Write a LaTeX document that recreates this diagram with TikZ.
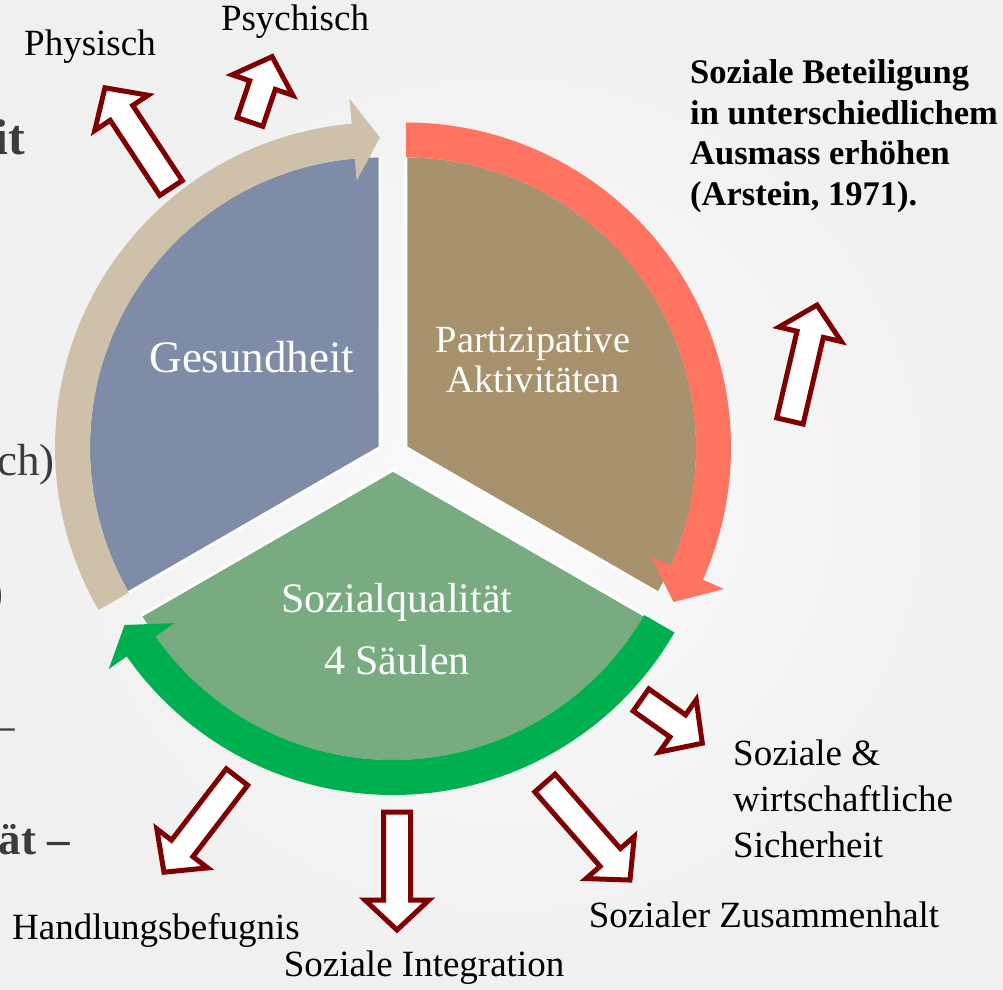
\documentclass[tikz,border=0pt]{standalone}
\usepackage{fontspec}
\setmainfont{Liberation Serif}
\usetikzlibrary{positioning}

\definecolor{gesundblue}{HTML}{7F8CA8}
\definecolor{partizbrown}{HTML}{A8926D}
\definecolor{sozgreen}{HTML}{78AB80}
\definecolor{ringbeige}{HTML}{CFC0A9}
\definecolor{ringred}{HTML}{FF7361}
\definecolor{ringgreen}{HTML}{00AF50}
\definecolor{arrowred}{HTML}{7F0000}
\definecolor{fragtext}{HTML}{3C3C3C}

% block arrow: tail point, direction, length
\newcommand{\fatarrow}[3]{%
  \begin{scope}[shift={#1}, rotate=#2]
    \draw[arrowbox] (0,-13.5) -- (#3-30,-13.5) -- (#3-30,-32) -- (#3,0)
      -- (#3-30,32) -- (#3-30,13.5) -- (0,13.5) -- cycle;
  \end{scope}}

\begin{document}
\begin{tikzpicture}[x=1pt, y=1pt,
  edge/.style={draw=white, line width=3pt, line cap=round},
  arrowbox/.style={draw=arrowred, fill=white, line width=5pt, line join=miter},
  lbl/.style={inner sep=0pt, font=\fontsize{37}{46}\selectfont},
  inlbl/.style={inner sep=0pt, text=white, align=center},
  frag/.style={inner sep=0pt, anchor=east, text=fragtext}]

\useasboundingbox (0,0) rectangle (1003,989);
\shade[inner color=gray!3, outer color=gray!12] (0,0) rectangle (1003,989);

% centres of the three pieces
\coordinate (C) at (393,534);
\path (C) ++(150:15) coordinate (Gc);
\path (C) ++(30:15) coordinate (Pc);
\path (C) ++(270:15) coordinate (Sc);

% pie pieces
\fill[gesundblue] (Gc) -- ++(90:290) arc[start angle=90, end angle=210, radius=290] -- cycle;
\fill[partizbrown] (Pc) -- ++(-30:290) arc[start angle=-30, end angle=90, radius=290] -- cycle;
\fill[sozgreen] (Sc) -- ++(210:290) arc[start angle=210, end angle=330, radius=290] -- cycle;
\draw[edge] (Gc) ++(90:290) -- (Gc) -- ++(210:290);
\draw[edge] (Pc) ++(90:290) -- (Pc) -- ++(-30:290);
\draw[edge] (Sc) ++(210:290) -- (Sc) -- ++(330:290);

% ring arrows
\begin{scope}[shift={(Gc)}]
\fill[ringbeige] (210:325) arc[start angle=210, end angle=95, radius=325] -- (95:350)
  -- (90:310) -- (95:268) -- (95:290) arc[start angle=95, end angle=210, radius=290] -- cycle;
\end{scope}
\begin{scope}[shift={(Pc)}]
\fill[ringred] (90:325) arc[start angle=90, end angle=-24, radius=325] -- (-24:348)
  -- (-30:309) -- (-24:268) -- (-24:290) arc[start angle=-24, end angle=90, radius=290] -- cycle;
\end{scope}
\begin{scope}[shift={(Sc)}]
\fill[ringgreen] (-30:325) arc[start angle=-30, end angle=-145, radius=325] -- (-145:347)
  -- (-150:310) -- (-145:267) -- (-145:290) arc[start angle=-145, end angle=-30, radius=290] -- cycle;
\end{scope}

% labels inside the pie
\node[inlbl, font=\fontsize{45}{50}\selectfont] (gesund) at (252,632) {Gesundheit};
\node[inlbl, font=\fontsize{38.4}{40}\selectfont] (partiz) at (533,629) {Partizipative\\Aktivitäten};
\node[inlbl, font=\fontsize{42}{62}\selectfont] (sozq) at (397,360) {Sozialqualität\\4 Säulen};

% outer labels
\node[lbl] (phys) at (90,942) {Physisch};
\node[lbl] (psych) at (295,967) {Psychisch};
\node[inner sep=0pt, anchor=west, align=left,
      font=\fontsize{34.5}{40.5}\selectfont\bfseries] (beteil) at (690,853)
      {Soziale Beteiligung\\in unterschiedlichem\\Ausmass erhöhen\\(Arstein, 1971).};
\node[lbl, anchor=west, align=left] (sicher) at (733,190) {Soziale \&\\wirtschaftliche\\Sicherheit};
\node[lbl] (zusamm) at (764,74) {Sozialer Zusammenhalt};
\node[lbl] (integr) at (424,21) {Soziale Integration};
\node[lbl] (handl) at (156,59) {Handlungsbefugnis};

% block arrows
\fatarrow{(171,801)}{123.4}{120}
\fatarrow{(250,867)}{71.3}{69}
\fatarrow{(790,568)}{76.9}{119}
\fatarrow{(641,289)}{-35.2}{75}
\fatarrow{(545,206)}{-48.8}{129}
\fatarrow{(397,177)}{-90}{118}
\fatarrow{(237,212)}{-127.5}{120}

% text cut off at the left edge
\node[frag, font=\fontsize{50}{50}\selectfont\bfseries] (fragit) at (25,852) {it};
\node[frag, font=\fontsize{45}{45}\selectfont] (fragch) at (55,524) {ch)};
\node[frag, font=\fontsize{45}{45}\selectfont] (fragbr) at (4,392) {)};
\node[frag, font=\fontsize{45}{45}\selectfont] (fragda) at (15,254) {–};
\node[frag, font=\fontsize{45}{45}\selectfont\bfseries] (fragat) at (70,149) {ät –};
\end{tikzpicture}
\end{document}
